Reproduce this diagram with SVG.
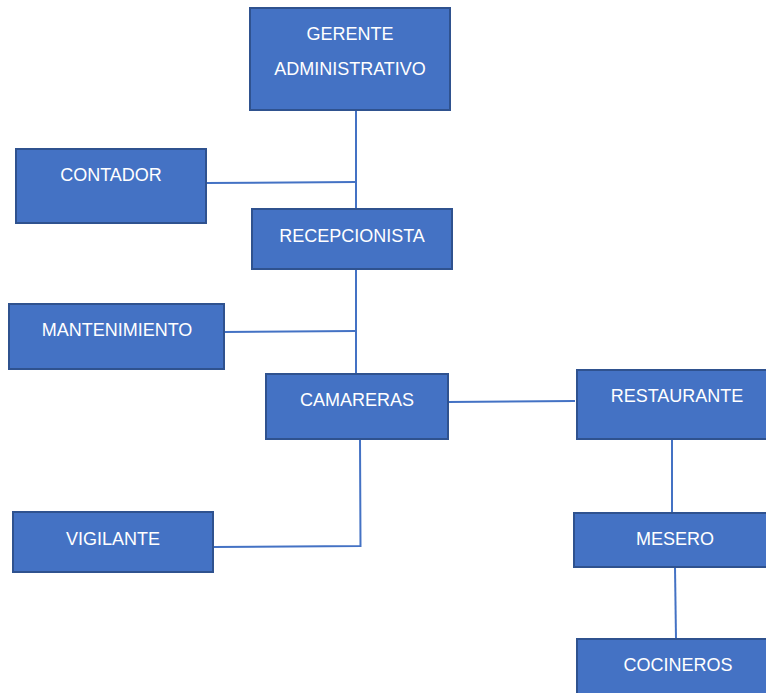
<svg xmlns="http://www.w3.org/2000/svg" width="766" height="693" viewBox="0 0 766 693">
<style>
.box{fill:#4472C4;stroke:#2F528F;stroke-width:2}
.lbl{fill:#ffffff;font-family:"Liberation Sans","Open Sans",sans-serif;font-size:18px;text-anchor:middle;dominant-baseline:central}
.con{fill:none;stroke:#4472C4;stroke-width:2}
</style>
<rect width="766" height="693" fill="#ffffff"/>
<g id="connectors">
<line class="con" x1="356" y1="110" x2="356" y2="209"/>
<line class="con" x1="206" y1="183" x2="356" y2="182"/>
<line class="con" x1="356" y1="269" x2="356" y2="374"/>
<line class="con" x1="224" y1="332" x2="356" y2="331"/>
<line class="con" x1="448" y1="402" x2="575" y2="401"/>
<polyline class="con" points="360,440 360.5,546 213,547"/>
<line class="con" x1="672" y1="439" x2="672" y2="513"/>
<line class="con" x1="675" y1="567" x2="676" y2="639"/>
</g>
<g id="gerente"><rect class="box" x="250" y="8" width="200" height="102"/><text class="lbl" x="350" y="34">GERENTE</text><text class="lbl" x="350" y="69">ADMINISTRATIVO</text></g>
<g id="contador"><rect class="box" x="16" y="149" width="190" height="74"/><text class="lbl" x="111" y="175">CONTADOR</text></g>
<g id="recepcionista"><rect class="box" x="252" y="209" width="200" height="60"/><text class="lbl" x="352" y="236">RECEPCIONISTA</text></g>
<g id="mantenimiento"><rect class="box" x="9" y="304" width="215" height="65"/><text class="lbl" x="117" y="330">MANTENIMIENTO</text></g>
<g id="camareras"><rect class="box" x="266" y="374" width="182" height="65"/><text class="lbl" x="357" y="400">CAMARERAS</text></g>
<g id="restaurante"><rect class="box" x="577" y="370" width="192" height="69"/><text class="lbl" x="677" y="396">RESTAURANTE</text></g>
<g id="mesero"><rect class="box" x="574" y="513" width="195" height="54"/><text class="lbl" x="675" y="539">MESERO</text></g>
<g id="cocineros"><rect class="box" x="577" y="639" width="192" height="60"/><text class="lbl" x="678" y="665">COCINEROS</text></g>
<g id="vigilante"><rect class="box" x="13" y="512" width="200" height="60"/><text class="lbl" x="113" y="539">VIGILANTE</text></g>
</svg>
